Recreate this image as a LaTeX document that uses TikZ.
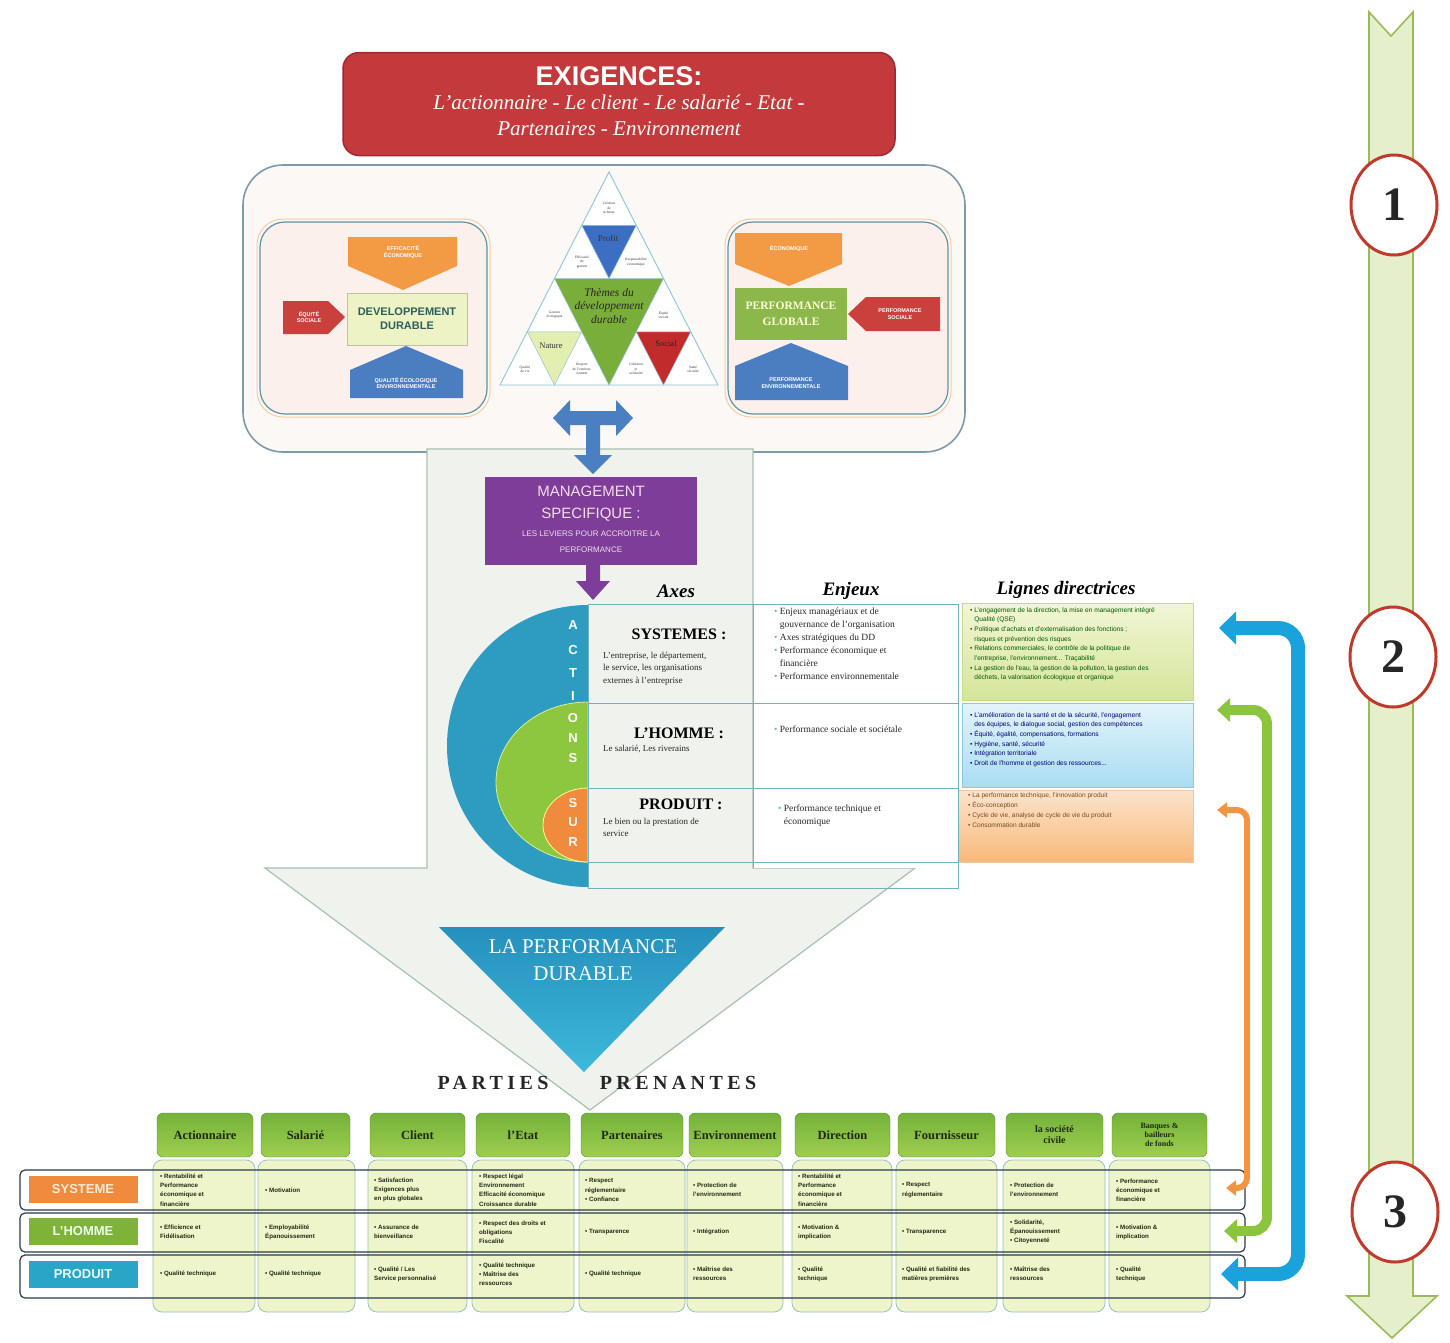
\documentclass[tikz,border=0pt]{standalone}
\usepackage{fontspec}
\setmainfont{Liberation Serif}
\setsansfont{Liberation Sans}
\usetikzlibrary{arrows.meta,shapes.geometric,calc}
\definecolor{bandfill}{HTML}{E6EFCB}
\definecolor{bandline}{HTML}{9BBB59}
\definecolor{numred}{HTML}{C0392B}
\definecolor{exred}{HTML}{C43A3C}
\definecolor{exredd}{HTML}{9E2A2B}
\definecolor{outerline}{HTML}{7E9AA6}
\definecolor{outerfill}{HTML}{FBF8F5}
\definecolor{innerline}{HTML}{5E93A3}
\definecolor{innerfill}{HTML}{FCF0EC}
\definecolor{orng}{HTML}{F39A45}
\definecolor{redd}{HTML}{C9403D}
\definecolor{blu}{HTML}{4A7EC0}
\definecolor{ddfill}{HTML}{EEF3C6}
\definecolor{pgreen}{HTML}{8CB84B}
\definecolor{pyrline}{HTML}{8FC3DA}
\definecolor{pyrblue}{HTML}{3C6FC4}
\definecolor{pyrgreen}{HTML}{7AAE3A}
\definecolor{pyrnat}{HTML}{E3EFB0}
\definecolor{pyrred}{HTML}{C22B2B}
\definecolor{arrblue}{HTML}{4A80C2}
\definecolor{bigfill}{HTML}{F0F2EE}
\definecolor{bigline}{HTML}{A6C2AE}
\definecolor{purp}{HTML}{7D3D98}
\definecolor{purptext}{HTML}{F5DDEA}
\definecolor{actblue}{HTML}{2E9CC0}
\definecolor{actgreen}{HTML}{8DC63F}
\definecolor{actorange}{HTML}{F08A3C}
\definecolor{tabline}{HTML}{6FB2C0}
\definecolor{perftop}{HTML}{2690BD}
\definecolor{perfbot}{HTML}{3DB8DA}
\definecolor{hdrtop}{HTML}{74B23A}
\definecolor{hdrbot}{HTML}{9FCE50}
\definecolor{colfill}{HTML}{EFF5CA}
\definecolor{colline}{HTML}{96C4B4}
\definecolor{rowline}{HTML}{2B3A4C}
\definecolor{fbblue}{HTML}{1AA2DC}
\definecolor{fbgreen}{HTML}{8BC540}
\definecolor{fborange}{HTML}{F29442}
\definecolor{darktxt}{HTML}{1E2A14}
\definecolor{ddtext}{HTML}{2C5F5C}
\definecolor{ligGtop}{HTML}{F2F6D6}
\definecolor{ligGbot}{HTML}{D5E59A}
\definecolor{ligGline}{HTML}{C9D98C}
\definecolor{ligBtop}{HTML}{E3F4FA}
\definecolor{ligBbot}{HTML}{A9DDF1}
\definecolor{ligBline}{HTML}{8CC8DD}
\definecolor{ligOtop}{HTML}{FCE3CC}
\definecolor{ligObot}{HTML}{F8B97A}
\definecolor{ligOline}{HTML}{F2C7A0}
\newcommand\fsz[2]{\fontsize{#1}{#2}\selectfont}
\newcommand\bsp{\hphantom{\textbullet\ }}
\begin{document}
\begin{tikzpicture}[x=1pt,y=-1pt,
  numcirc/.style={ellipse, draw=numred, line width=3pt, fill=white, minimum width=86pt, minimum height=100pt, font=\bfseries\fsz{48}{50}, text=black!85, inner sep=0pt},
  tinyw/.style={text=white, font=\sffamily\bfseries\fsz{5.5}{6.5}, align=center, inner sep=0pt},
  pyrtxt/.style={font=\fsz{3.6}{4.3}, align=center, inner sep=0pt, text=black!80},
  letter/.style={text=white, font=\sffamily\bfseries\fsz{13}{14}, inner sep=0pt},
  axe/.style={font=\bfseries\fsz{16}{18}, inner sep=0pt, text=black},
  axedesc/.style={font=\fsz{9}{12.5}, align=left, anchor=north west, inner sep=0pt, text=black!85},
  enj/.style={font=\fsz{9.5}{13}, align=left, anchor=north west, inner sep=0pt, text=black!85},
  lig/.style={font=\sffamily\fsz{6.6}{9.7}, align=left, anchor=north west, inner sep=0pt},
  coltitle/.style={font=\bfseries\itshape\fsz{19}{21}, inner sep=0pt},
  hdr/.style={rounded corners=6pt, top color=hdrtop, bottom color=hdrbot, draw=hdrtop!80!black, line width=0.4pt, minimum height=44pt, align=center, font=\bfseries\fsz{12.5}{13}, text=darktxt, inner sep=1pt},
  cell/.style={font=\sffamily\bfseries\fsz{6.2}{9.2}, align=left, anchor=west, inner sep=0pt, text=darktxt},
  rowlab/.style={minimum width=109pt, minimum height=27pt, font=\sffamily\bfseries\fsz{13}{14}, inner sep=0pt},
]
\fill[white] (0,0) rectangle (1450,1342);
\useasboundingbox (0,0) rectangle (1450,1342);

% ---------- right progress band ----------
\filldraw[fill=bandfill, draw=bandline, line width=1.6pt]
  (1369,12) -- (1391,36) -- (1413,12) -- (1413,1296) -- (1437,1296) -- (1392,1338) -- (1347,1296) -- (1369,1296) -- cycle;
\node[numcirc] (n1) at (1394,205) {1};
\node[numcirc] (n2) at (1393,657) {2};
\node[numcirc] (n3) at (1395,1212) {3};

% ---------- EXIGENCES ----------
\node[draw=exredd, line width=1.5pt, fill=exred, rounded corners=16pt, minimum width=552pt, minimum height=103pt] (exig) at (619,104) {};
\node[font=\sffamily\bfseries\fsz{27}{28}, text=white] (exigt) at (619,76) {EXIGENCES:};
\node[font=\itshape\fsz{21}{22}, text=white] (exig1) at (619,102) {L'actionnaire - Le client - Le salarié - Etat -};
\node[font=\itshape\fsz{21}{22}, text=white] (exig2) at (619,129) {Partenaires - Environnement};

% ---------- outer box ----------
\draw[rounded corners=40pt, draw=outerline, line width=1.6pt, fill=outerfill] (243,165) rectangle (965,452);

% ---------- big grey arrow ----------
\filldraw[fill=bigfill, draw=bigline, line width=1.2pt]
  (427,449) -- (753,449) -- (753,868) -- (915,868) -- (590,1110) -- (265,868) -- (427,868) -- cycle;

% ---------- left inner box ----------
\draw[rounded corners=26pt, draw=orng!50, line width=1pt] (257,219) rectangle (490,417);
\draw[rounded corners=25pt, draw=innerline, line width=1.2pt, fill=innerfill] (260,222) rectangle (487,414);
\fill[orng] (348,237) -- (457,237) -- (457,266) -- (403,290) -- (348,266) -- cycle;
\node[tinyw] (lo) at (403,252) {EFFICACITÉ\\ÉCONOMIQUE};
\filldraw[fill=ddfill, draw=ddfill!80!black, line width=0.4pt] (347,293) rectangle (467,345);
\node[font=\sffamily\bfseries\fsz{11}{14}, text=ddtext, align=center] (ldd) at (407,319) {DEVELOPPEMENT\\DURABLE};
\fill[redd] (283,301) -- (328,301) -- (345,317) -- (328,334) -- (283,334) -- cycle;
\node[tinyw] (lr) at (309,317) {ÉQUITÉ\\SOCIALE};
\fill[blu] (350,398) -- (350,370) -- (406,346) -- (463,370) -- (463,398) -- cycle;
\node[tinyw] (lb) at (406,383) {QUALITÉ ÉCOLOGIQUE\\ENVIRONNEMENTALE};

% ---------- right inner box ----------
\draw[rounded corners=26pt, draw=orng!50, line width=1pt] (725,219) rectangle (951,417);
\draw[rounded corners=25pt, draw=innerline, line width=1.2pt, fill=innerfill] (728,222) rectangle (948,414);
\fill[orng] (735,233) -- (842,233) -- (842,264) -- (789,286) -- (735,264) -- cycle;
\node[tinyw] (ro) at (789,249) {ÉCONOMIQUE};
\fill[pgreen] (735,288) rectangle (847,340);
\node[font=\bfseries\fsz{11.5}{16}, text=yellow!15, align=center] (rpg) at (791,314) {PERFORMANCE\\GLOBALE};
\fill[redd] (940,297) -- (866,297) -- (848,314) -- (866,331) -- (940,331) -- cycle;
\node[tinyw] (rr) at (900,314) {PERFORMANCE\\SOCIALE};
\fill[blu] (735,400) -- (735,366) -- (791,343) -- (848,366) -- (848,400) -- cycle;
\node[tinyw] (rb) at (791,383) {PERFORMANCE\\ENVIRONNEMENTALE};

% ---------- pyramid ----------
\coordinate (pA) at (609,172); \coordinate (pB) at (500,385); \coordinate (pC) at (718,385);
\fill[white] (pA) -- (pB) -- (pC) -- cycle;
\filldraw[fill=pyrgreen, draw=pyrline, line width=0.5pt] (554.5,278.5) -- (663.5,278.5) -- (609,385) -- cycle;
\filldraw[fill=pyrblue, draw=pyrline, line width=0.5pt] (581.75,225.25) -- (636.25,225.25) -- (609,278.5) -- cycle;
\filldraw[fill=pyrnat, draw=pyrline, line width=0.5pt] (527.25,331.75) -- (581.75,331.75) -- (554.5,385) -- cycle;
\filldraw[fill=pyrred, draw=pyrline, line width=0.5pt] (636.25,331.75) -- (690.75,331.75) -- (663.5,385) -- cycle;
\draw[pyrline, line width=0.9pt] (pA) -- (pB) -- (pC) -- cycle;
\node[font=\fsz{9}{10}, text=black!80] (tpro) at (608,238) {Profit};
\node[font=\itshape\fsz{11.5}{13.5}, align=center, text=black!85] (tdd) at (609,306) {Thèmes du\\développement\\durable};
\node[font=\fsz{8.5}{9}, text=black!80] (tnat) at (551,346) {Nature};
\node[font=\fsz{8.5}{9}, text=black!85] (tsoc) at (666,344) {Social};
\node[pyrtxt] (p1) at (609,208) {Création\\de\\richesse};
\node[pyrtxt] (p2) at (582,262) {Efficacité\\de\\gestion};
\node[pyrtxt] (p3) at (636,262) {Responsabilité\\économique};
\node[pyrtxt] (p4) at (554.5,315) {Gestion\\écologique};
\node[pyrtxt] (p5) at (525,369) {Qualité\\de vie};
\node[pyrtxt] (p6) at (582,369) {Respect\\de l'environ-\\nement};
\node[pyrtxt] (p7) at (663.5,315) {Équité\\sociale};
\node[pyrtxt] (p8) at (636,369) {Cohésion\\et\\solidarité};
\node[pyrtxt] (p9) at (693,369) {Santé\\sécurité};

% ---------- blue double arrow ----------
\fill[arrblue] (553,418) -- (570,400) -- (570,411) -- (616,411) -- (616,400) -- (633,418) -- (616,436) -- (616,425)
  -- (600,425) -- (600,455) -- (612,455) -- (593,474) -- (574,455) -- (586,455) -- (586,425) -- (570,425) -- (570,436) -- cycle;

% ---------- management ----------
\node[fill=purp, minimum width=212pt, minimum height=88pt] (mgt) at (591,521) {};
\node[font=\sffamily\fsz{15}{16}, text=purptext] (mg1) at (591,491) {MANAGEMENT};
\node[font=\sffamily\fsz{15}{16}, text=purptext] (mg2) at (591,515) {SPECIFIQUE :};
\node[font=\sffamily\fsz{8}{9}, text=purptext] (mg3) at (591,534) {LES LEVIERS POUR ACCROITRE LA};
\node[font=\sffamily\fsz{8}{9}, text=purptext] (mg4) at (591,550) {PERFORMANCE};
\fill[purp] (586,565) -- (600,565) -- (600,581) -- (610,581) -- (593,600) -- (576,581) -- (586,581) -- cycle;

% ---------- actions half discs ----------
\fill[actblue] (588,605) arc[start angle=90, end angle=270, x radius=141pt, y radius=141pt] -- cycle;
\filldraw[fill=actgreen, draw=yellow!60!green!40, line width=0.8pt] (588,702) arc[start angle=90, end angle=270, x radius=92pt, y radius=80pt] -- cycle;
\filldraw[fill=actorange, draw=yellow!40, line width=0.8pt] (588,788) arc[start angle=90, end angle=270, x radius=45pt, y radius=37pt] -- cycle;
\foreach \ch/\yy [count=\i] in {A/625,C/650,T/673,I/696,O/718,N/738,S/758,S/803,U/822,R/842}
  \node[letter] (lt\i) at (573,\yy) {\ch};

% ---------- table axes / enjeux ----------
\fill[white] (753,604) rectangle (958,868);
\draw[tabline, line width=0.8pt] (588,604) rectangle (958,888);
\draw[tabline, line width=0.8pt] (588,703) -- (958,703) (588,788) -- (958,788) (588,862) -- (958,862);
\draw[tabline, line width=0.8pt] (753,604) -- (753,868);
\node[coltitle] (hax) at (676,591) {Axes};
\node[coltitle] (hen) at (851,591) {Enjeux};
\node[coltitle] (hli) at (1066,590) {Lignes directrices};

\node[axe] (asys) at (679,634) {SYSTEMES :};
\node[axedesc] (dsys) at (603,652) {L'entreprise, le département,\\le service, les organisations\\externes à l'entreprise};
\node[axe] (ahom) at (679,733) {L'HOMME :};
\node[axedesc] (dhom) at (603,745) {Le salarié, Les riverains};
\node[axe] (apro) at (681,804) {PRODUIT :};
\node[axedesc] (dpro) at (603,818) {Le bien ou la prestation de\\service};

\node[enj] (esys) at (774,608) {\textcolor{tabline}{\textbullet} Enjeux managériaux et de\\\bsp gouvernance de l'organisation\\\textcolor{tabline}{\textbullet} Axes stratégiques du DD\\\textcolor{tabline}{\textbullet} Performance économique et\\\bsp financière\\\textcolor{tabline}{\textbullet} Performance environnementale};
\node[enj] (ehom) at (774,726) {\textcolor{tabline}{\textbullet} Performance sociale et sociétale};
\node[enj] (epro) at (778,805) {\textcolor{tabline}{\textbullet} Performance technique et\\\bsp économique};

% ---------- lignes directrices ----------
\path[top color=ligGtop, bottom color=ligGbot, draw=ligGline, line width=0.6pt] (962,603) rectangle (1193,700);
\path[top color=ligBtop, bottom color=ligBbot, draw=ligBline, line width=0.6pt] (962,703) rectangle (1193,787);
\path[top color=ligOtop, bottom color=ligObot, draw=ligOline, line width=0.6pt] (958,790) rectangle (1193,862);
\draw[tabline, line width=0.8pt] (958,604) -- (958,888);
\node[lig, text=green!35!black] (lg1) at (970,607) {\textbullet\ L'engagement de la direction, la mise en management intégré\\\bsp Qualité (QSE)\\\textbullet\ Politique d'achats et d'externalisation des fonctions ;\\\bsp risques et prévention des risques\\\textbullet\ Relations commerciales, le contrôle de la politique de\\\bsp l'entreprise, l'environnement... Traçabilité\\\textbullet\ La gestion de l'eau, la gestion de la pollution, la gestion des\\\bsp déchets, la valorisation écologique et organique};
\node[lig, text=blue!45!black] (lg2) at (970,712) {\textbullet\ L'amélioration de la santé et de la sécurité, l'engagement\\\bsp des équipes, le dialogue social, gestion des compétences\\\textbullet\ Équité, égalité, compensations, formations\\\textbullet\ Hygiène, santé, sécurité\\\textbullet\ Intégration territoriale\\\textbullet\ Droit de l'homme et gestion des ressources...};
\node[lig, text=brown!60!black] (lg3) at (968,793) {\textbullet\ La performance technique, l'innovation produit\\\textbullet\ Éco-conception\\\textbullet\ Cycle de vie, analyse de cycle de vie du produit\\\textbullet\ Consommation durable};

% ---------- performance durable ----------
\path[top color=perftop, bottom color=perfbot] (439,927) -- (725,927) -- (584,1072) -- cycle;
\node[font=\fsz{21}{22}, text=white] (pd1) at (583,947) {LA PERFORMANCE};
\node[font=\fsz{21}{22}, text=white] (pd2) at (583,974) {DURABLE};
\node[font=\bfseries\fsz{20}{21}\addfontfeature{LetterSpace=22}, text=black!85] (pp1) at (493,1083) {PARTIES};
\node[font=\bfseries\fsz{20}{21}\addfontfeature{LetterSpace=22}, text=black!85] (pp2) at (678,1083) {PRENANTES};

% ---------- stakeholder columns ----------
\foreach \l/\r in {153/255, 258/355, 368/467, 472/574, 579/685, 687/783, 792/892, 896/997, 1003/1105, 1109/1210}
  \draw[fill=colfill, draw=colline, line width=0.8pt, rounded corners=9pt] (\l,1160) rectangle (\r,1312);
\foreach \c/\w/\t [count=\i] in {205/96/Actionnaire, 305.5/89/Salarié, 417.5/95/Client, 523/94/l'Etat, 632/102/Partenaires, 735/92/Environnement, 842.5/95/Direction, 946.5/97/Fournisseur}
  \node[hdr, minimum width=\w pt] (hd\i) at (\c,1135) {\t};
\node[hdr, minimum width=97pt, font=\bfseries\fsz{10}{11}] (hd9) at (1054.5,1135) {la société\\civile};
\node[hdr, minimum width=95pt, font=\bfseries\fsz{8}{9}] (hd10) at (1159.5,1135) {Banques \&\\bailleurs\\de fonds};

% rows
\draw[rowline, line width=1.2pt, rounded corners=5pt] (20,1170) rectangle (1245,1210);
\draw[rowline, line width=1.2pt, rounded corners=5pt] (20,1213) rectangle (1245,1252);
\draw[rowline, line width=1.2pt, rounded corners=5pt] (20,1255) rectangle (1245,1298);
\node[rowlab, fill=actorange, text=orange!15] (rs) at (83,1189) {SYSTEME};
\node[rowlab, fill=actgreen!90!black, text=green!8] (rh) at (83,1231) {L'HOMME};
\node[rowlab, fill=actblue!90!cyan, text=cyan!8] (rp) at (83,1274) {PRODUIT};

\foreach \x/\t [count=\i] in {
  160/{\textbullet\ Rentabilité et\\Performance\\économique et\\financière},
  265/{\textbullet\ Motivation},
  374/{\textbullet\ Satisfaction\\Exigences plus\\en plus globales},
  479/{\textbullet\ Respect légal\\Environnement\\Efficacité économique\\Croissance durable},
  585/{\textbullet\ Respect\\réglementaire\\\textbullet\ Confiance},
  693/{\textbullet\ Protection de\\l'environnement},
  798/{\textbullet\ Rentabilité et\\Performance\\économique et\\financière},
  902/{\textbullet\ Respect\\réglementaire},
  1010/{\textbullet\ Protection de\\l'environnement},
  1116/{\textbullet\ Performance\\économique et\\financière}}
  \node[cell] (cs\i) at (\x,1190) {\t};
\foreach \x/\t [count=\i] in {
  160/{\textbullet\ Efficience et\\Fidélisation},
  265/{\textbullet\ Employabilité\\Épanouissement},
  374/{\textbullet\ Assurance de\\bienveillance},
  479/{\textbullet\ Respect des droits et\\obligations\\Fiscalité},
  585/{\textbullet\ Transparence},
  693/{\textbullet\ Intégration},
  798/{\textbullet\ Motivation \&\\implication},
  902/{\textbullet\ Transparence},
  1010/{\textbullet\ Solidarité,\\Épanouissement\\\textbullet\ Citoyenneté},
  1116/{\textbullet\ Motivation \&\\implication}}
  \node[cell] (ch\i) at (\x,1232) {\t};
\foreach \x/\t [count=\i] in {
  160/{\textbullet\ Qualité technique},
  265/{\textbullet\ Qualité technique},
  374/{\textbullet\ Qualité / Les\\Service personnalisé},
  479/{\textbullet\ Qualité technique\\\textbullet\ Maîtrise des\\ressources},
  585/{\textbullet\ Qualité technique},
  693/{\textbullet\ Maîtrise des\\ressources},
  798/{\textbullet\ Qualité\\technique},
  902/{\textbullet\ Qualité et fiabilité des\\matières premières},
  1010/{\textbullet\ Maîtrise des\\ressources},
  1116/{\textbullet\ Qualité\\technique}}
  \node[cell] (cp\i) at (\x,1274) {\t};

% ---------- feedback arrows ----------
\coordinate (ot) at (1217,810); \coordinate (ob) at (1226,1188);
\coordinate (gt) at (1217,710); \coordinate (gb) at (1224,1231);
\coordinate (bt) at (1219,628); \coordinate (bb) at (1221,1274);
\draw[fborange, line width=6pt, rounded corners=10pt, {Triangle[length=10pt,width=15pt]}-{Triangle[length=10pt,width=15pt]}]
  (ot) -- (1247,810) -- (1247,1188) -- (ob);
\draw[fbgreen, line width=10pt, rounded corners=14pt, {Triangle[length=13pt,width=23pt]}-{Triangle[length=13pt,width=23pt]}]
  (gt) -- (1267,710) -- (1267,1231) -- (gb);
\draw[fbblue, line width=14pt, rounded corners=20pt, {Triangle[length=17pt,width=32pt]}-{Triangle[length=17pt,width=32pt]}]
  (bt) -- (1298,628) -- (1298,1274) -- (bb);
\end{tikzpicture}
\end{document}
